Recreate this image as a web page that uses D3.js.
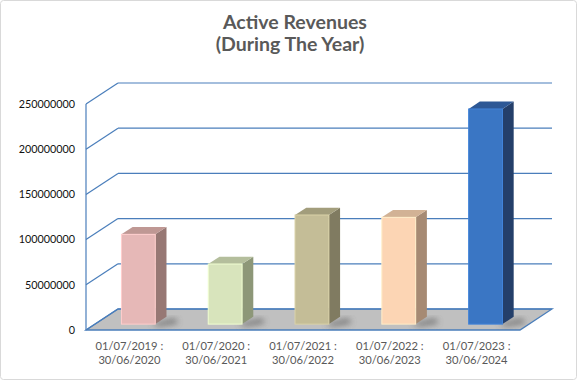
<!DOCTYPE html>
<html>
<head>
<meta charset="utf-8">
<script src="https://d3js.org/d3.v7.min.js"></script>
<style>
  body { margin: 0; background: #fff; }
  text { font-family: Lato, "Open Sans", sans-serif; }
</style>
</head>
<body>
<svg id="chart" width="577" height="380"></svg>
<script>
// dados
const periodos = [
  ["01/07/2019 :", "30/06/2020"],
  ["01/07/2020 :", "30/06/2021"],
  ["01/07/2021 :", "30/06/2022"],
  ["01/07/2022 :", "30/06/2023"],
  ["01/07/2023 :", "30/06/2024"]
];
const receitas = [99300000, 66500000, 120700000, 118100000, 238000000];
const ticks = [0, 50000000, 100000000, 150000000, 200000000, 250000000];
const frente = ["#e6b8b7", "#d8e4bc", "#c4bd97", "#fcd5b4", "#3a76c4"];
const lado = ["#977874", "#8d9778", "#807b61", "#a68a73", "#243f6a"];
const topo = ["#bf9894", "#b4be9c", "#a29d7c", "#d2b295", "#2d5896"];

const svg = d3.select("#chart");
const W = 577, H = 380;

// profundidade do "3D"
const dX = 32, dY = -21;

const x = d3.scaleBand().domain(d3.range(periodos.length)).range([86, 520]);
const y = d3.scaleLinear().domain([0, 250000000]).range([330, 104]);

// borda externa
svg.append("rect").attr("x", 0.5).attr("y", 0.5).attr("width", W - 1).attr("height", H - 1)
  .attr("rx", 3).attr("fill", "#fff").attr("stroke", "#d9d9d9");

const defs = svg.append("defs");
defs.append("filter").attr("id", "sombra").attr("x", "-50%").attr("y", "-50%").attr("width", "200%").attr("height", "200%")
  .append("feGaussianBlur").attr("stdDeviation", 3);

// titulo
const titulo = svg.append("text").attr("text-anchor", "middle").attr("fill", "#595959")
  .attr("font-size", 19.5).attr("font-weight", "bold");
titulo.append("tspan").attr("x", 295).attr("y", 29).text("Active Revenues");
titulo.append("tspan").attr("x", 290).attr("y", 51).text("(During The Year)");

const azul = "#4a7ebb";
const x0 = x.range()[0], x1 = x.range()[1];

// chão
svg.append("path")
  .attr("d", `M${x0},${y(0)}L${x1},${y(0)}L${x1 + dX},${y(0) + dY}L${x0 + dX},${y(0) + dY}Z`)
  .attr("fill", "#c0c0c0").attr("stroke", azul).attr("stroke-width", 1.3);

// grade da parede de fundo e lateral
const grade = svg.append("g").attr("stroke", azul).attr("stroke-width", 1.2).attr("fill", "none");
ticks.forEach(t => {
  grade.append("line").attr("x1", x0 + dX).attr("x2", x1 + dX).attr("y1", y(t) + dY).attr("y2", y(t) + dY);
  grade.append("line").attr("x1", x0).attr("x2", x0 + dX).attr("y1", y(t)).attr("y2", y(t) + dY);
});
grade.append("line").attr("x1", x0).attr("x2", x0).attr("y1", y(0)).attr("y2", y(250000000));

// rótulos do eixo y
svg.append("g").selectAll("text").data(ticks).join("text")
  .attr("x", 75).attr("y", d => y(d)).attr("dy", "0.35em")
  .attr("text-anchor", "end").attr("font-size", 10.8).attr("fill", "#111")
  .text(d => d3.format("d")(d));

// barras
const f1 = 0.28, f2 = 0.63;
const bw = x.bandwidth() * 0.39;
const barras = svg.append("g").selectAll("g").data(receitas).join("g");

barras.each(function(v, i) {
  const g = d3.select(this);
  const bx = x(i) + x.bandwidth() / 2 - bw / 2 + f1 * dX;
  const base = y(0) + f1 * dY;
  const alto = base - (y(0) - y(v));
  const ox = (f2 - f1) * dX, oy = (f2 - f1) * dY;
  // sombra no chão
  g.append("path")
    .attr("d", `M${bx + bw - 4},${base}L${bx + bw + ox + 8},${base + oy + 2}L${bx + bw + ox + 12},${base + oy + 6}L${bx + bw + 4},${base + 2}Z`)
    .attr("fill", "#555").attr("opacity", 0.8).attr("filter", "url(#sombra)");
  g.append("path")
    .attr("d", `M${bx + bw},${base}L${bx + bw + ox},${base + oy}L${bx + bw + ox},${alto + oy}L${bx + bw},${alto}Z`)
    .attr("fill", lado[i]);
  g.append("path")
    .attr("d", `M${bx},${alto}L${bx + bw},${alto}L${bx + bw + ox},${alto + oy}L${bx + ox},${alto + oy}Z`)
    .attr("fill", topo[i]);
  g.append("rect").attr("x", bx).attr("y", alto).attr("width", bw).attr("height", base - alto)
    .attr("fill", frente[i]).attr("stroke", d3.color(frente[i]).brighter(0.3)).attr("stroke-width", 1);
});

// rótulos das categorias
svg.append("g").selectAll("text").data(periodos).join("text")
  .attr("text-anchor", "middle").attr("font-size", 11.2).attr("fill", "#595959")
  .each(function(d, i) {
    const t = d3.select(this);
    const cx = x(i) + x.bandwidth() / 2;
    d.forEach((linha, k) => t.append("tspan").attr("x", cx).attr("y", 350 + k * 14).text(linha));
  });
</script>
</body>
</html>
